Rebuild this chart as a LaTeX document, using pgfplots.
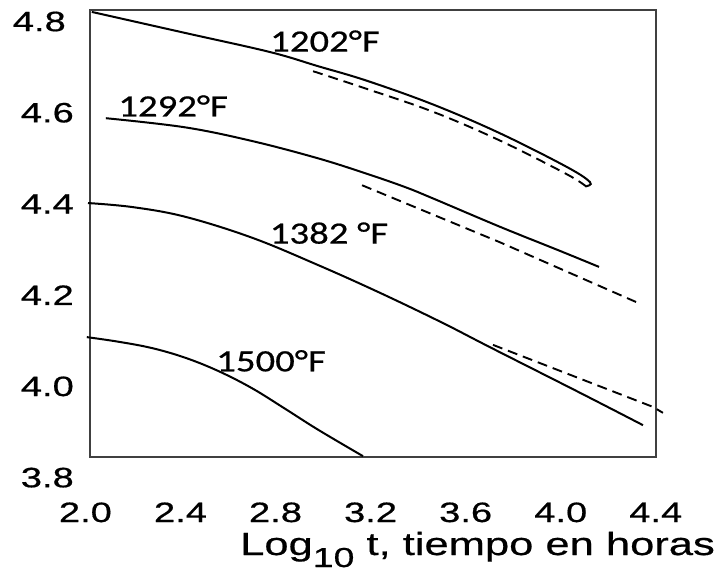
\documentclass[border=0pt]{standalone}
\usepackage{fontspec}
\usepackage{pgfplots}
\pgfplotsset{compat=1.18}
\setmainfont{Liberation Sans}
\newfontfamily\tickfont{Liberation Sans}[FakeStretch=1.36, FakeBold=0.6]
\newfontfamily\lblfont{Carlito}[FakeStretch=1.25, FakeBold=0.6]
\begin{document}
\begin{tikzpicture}
\useasboundingbox (-85.4pt,-96.4pt) rectangle (631.6pt,477.6pt);
\begin{axis}[
  scale only axis,
  width=570.4pt, height=456.1pt,
  xmin=2.0, xmax=4.4, ymin=3.8, ymax=4.8,
  enlargelimits=false,
  clip=false,
  axis line style={draw=none},
  major tick length=0pt,
  xtick={2.0,2.4,2.8,3.2,3.6,4.0,4.4},
  xticklabels={2.0,2.4,2.8,3.2,3.6,4.0,4.4},
  ytick={3.8,4.0,4.2,4.4,4.6,4.8},
  yticklabels={3.8,4.0,4.2,4.4,4.6,\hspace*{0pt}4.8\hspace*{8pt}},
  xticklabel style={font=\tickfont\fontsize{28}{30}\selectfont, anchor=base, inner sep=0pt, yshift=-44.4pt},
  yticklabel style={font=\tickfont\fontsize{28}{30}\selectfont, anchor=east, inner sep=0pt, xshift=-11.4pt},
  xlabel={Log\raisebox{-12pt}{\fontsize{27.5}{29}\selectfont 10} t, tiempo en horas},
  xlabel style={font=\tickfont\fontsize{32}{34}\selectfont, at={(axis description cs:0,0)}, anchor=base west, inner sep=0pt, xshift=154.6pt, yshift=-77.4pt},
]
\draw[line width=2.6pt, black!75] (axis cs:2.019,3.845) rectangle (axis cs:4.40,4.825);

% 1202 F
\addplot[black, line width=2pt, smooth, tension=0.6] coordinates {
(2.027,4.821) (2.419,4.775) (2.777,4.733) (2.979,4.702)
(3.185,4.670) (3.463,4.618) (3.744,4.555) (4.026,4.481)
(4.123,4.448) (4.108,4.439)};
\addplot[black, line width=1.9pt, dash pattern=on 10pt off 6pt, smooth, tension=0.6] coordinates {
(2.958,4.691) (3.185,4.652) (3.463,4.602) (3.744,4.539) (4.026,4.465) (4.110,4.437)};

% 1292 F
\addplot[black, line width=2pt, smooth, tension=0.6] coordinates {
(2.086,4.588) (2.419,4.568) (2.701,4.538) (2.979,4.500) (3.185,4.466)
(3.345,4.437) (3.463,4.412) (3.744,4.350) (3.997,4.297) (4.161,4.262)};
\addplot[black, line width=1.9pt, dash pattern=on 10pt off 6pt] coordinates {
(3.164,4.441) (3.744,4.316) (4.317,4.185)};

% 1382 F
\addplot[black, line width=2pt, smooth, tension=0.6] coordinates {
(2.011,4.402) (2.2,4.393) (2.419,4.372) (2.701,4.326) (2.979,4.266)
(3.240,4.205) (3.5,4.140) (3.702,4.086) (4.081,3.986) (4.346,3.915)};
\addplot[black, line width=1.9pt, dash pattern=on 10pt off 6pt] coordinates {
(3.715,4.091) (4.388,3.955) (4.430,3.942)};

% 1500 F
\addplot[black, line width=2pt, smooth, tension=0.6] coordinates {
(2.006,4.108) (2.138,4.098) (2.280,4.084) (2.419,4.063) (2.558,4.034)
(2.701,3.996) (2.840,3.951) (2.979,3.905) (3.168,3.847)};

\node[font=\lblfont\fontsize{31}{33}\selectfont, inner sep=0pt] at (axis cs:3.008,4.757) {1202°F};
\node[font=\lblfont\fontsize{31}{33}\selectfont, inner sep=0pt] at (axis cs:2.369,4.615) {1292°F};
\node[font=\lblfont\fontsize{31}{33}\selectfont, inner sep=0pt] at (axis cs:3.025,4.336) {1382 °F};
\node[font=\lblfont\fontsize{31}{33}\selectfont, inner sep=0pt] at (axis cs:2.781,4.056) {1500°F};
\end{axis}
\end{tikzpicture}
\end{document}
